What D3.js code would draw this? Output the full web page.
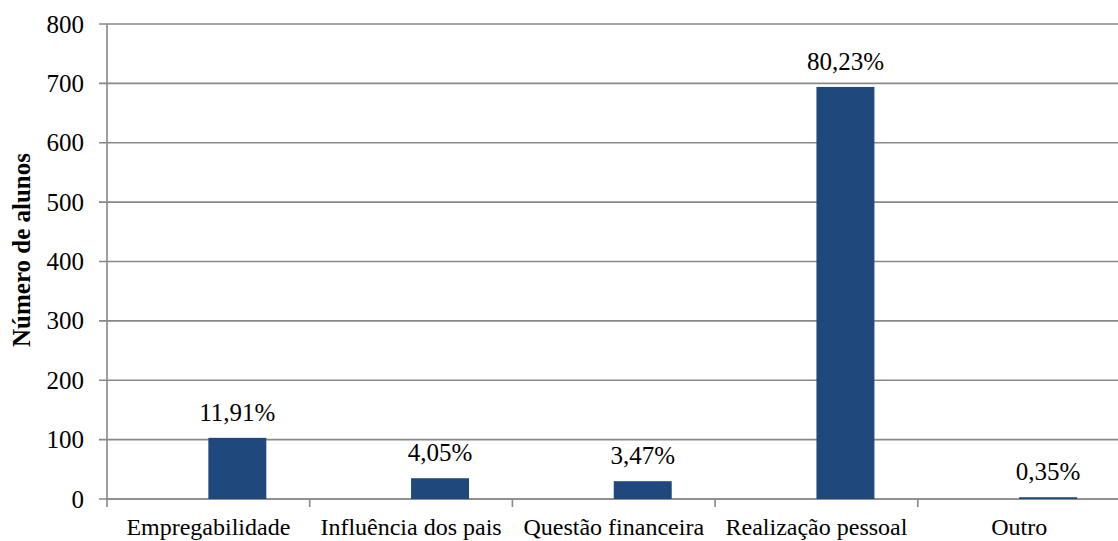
<!DOCTYPE html>
<html>
<head>
  <meta charset="utf-8">
  <title>Número de alunos</title>
  <style>
    body {margin:0; background:#fff;}
    svg text {font-family: "Liberation Serif", "Times New Roman", serif; fill:#000;}
    .grid line, .axis line, .axis path {stroke:#888; stroke-width:1.6; fill:none;}
  </style>
</head>
<body>
<script src="https://cdn.jsdelivr.net/npm/d3@7/dist/d3.min.js"></script>
<script>
  var categories = ['Empregabilidade', 'Influência dos pais', 'Questão financeira', 'Realização pessoal', 'Outro'];
  var values = [103, 35, 30, 694, 3];
  var labels = ['11,91%', '4,05%', '3,47%', '80,23%', '0,35%'];
  var yTicks = [0, 100, 200, 300, 400, 500, 600, 700, 800];

  var width = 1118,
      height = 541,
      plot_left = 107,
      plot_right = 1120.5,
      plot_top = 24,
      plot_bottom = 499;

  var svg = d3.select('body')
    .append('svg')
    .attr('width', width)
    .attr('height', height);

  var x = d3.scaleBand()
    .domain(categories)
    .range([plot_left, plot_right]);

  var y = d3.scaleLinear()
    .domain([0, 800])
    .range([plot_bottom, plot_top]);

  var barW = x.bandwidth() * 0.286;

  // gridlines + y ticks
  var grid = svg.append('g').attr('class', 'grid');
  grid.selectAll('line')
    .data(yTicks)
    .enter().append('line')
    .attr('x1', plot_left - 8)
    .attr('x2', plot_right)
    .attr('y1', function(d){ return y(d); })
    .attr('y2', function(d){ return y(d); });

  svg.append('g')
    .selectAll('text')
    .data(yTicks)
    .enter().append('text')
    .attr('x', plot_left - 23)
    .attr('y', function(d){ return y(d); })
    .attr('dy', '0.34em')
    .attr('text-anchor', 'end')
    .style('font-size', '25px')
    .text(function(d){ return d; });

  // y axis line
  svg.append('g').attr('class', 'axis')
    .append('line')
    .attr('x1', plot_left).attr('x2', plot_left)
    .attr('y1', plot_top).attr('y2', plot_bottom);

  // x axis with category separators
  var xAxis = svg.append('g').attr('class', 'axis');
  xAxis.append('line')
    .attr('x1', plot_left).attr('x2', plot_right)
    .attr('y1', plot_bottom).attr('y2', plot_bottom);
  xAxis.selectAll('line.sep')
    .data(categories.concat(['_end']))
    .enter().append('line')
    .attr('class', 'sep')
    .attr('x1', function(d, i){ return plot_left + i * x.bandwidth(); })
    .attr('x2', function(d, i){ return plot_left + i * x.bandwidth(); })
    .attr('y1', plot_bottom)
    .attr('y2', plot_bottom + 8);

  svg.append('g')
    .selectAll('text')
    .data(categories)
    .enter().append('text')
    .attr('x', function(d){ return x(d) + x.bandwidth() / 2; })
    .attr('y', 535)
    .attr('text-anchor', 'middle')
    .style('font-size', '24px')
    .text(function(d){ return d; });

  // bars
  svg.append('g')
    .selectAll('rect')
    .data(values)
    .enter().append('rect')
    .attr('x', function(d, i){ return x(categories[i]) + x.bandwidth() / 2; })
    .attr('width', barW)
    .attr('y', function(d){ return y(d); })
    .attr('height', function(d){ return plot_bottom - y(d); })
    .attr('fill', '#1f497d');

  // data labels
  svg.append('g')
    .selectAll('text')
    .data(values)
    .enter().append('text')
    .attr('x', function(d, i){ return x(categories[i]) + x.bandwidth() / 2 + barW / 2; })
    .attr('y', function(d){ return y(d) - 17; })
    .attr('text-anchor', 'middle')
    .style('font-size', '25px')
    .text(function(d, i){ return labels[i]; });

  // y title
  svg.append('text')
    .attr('transform', 'translate(30,250) rotate(-90)')
    .attr('text-anchor', 'middle')
    .style('font-size', '25px')
    .style('font-weight', 'bold')
    .text('Número de alunos');
</script>
</body>
</html>
